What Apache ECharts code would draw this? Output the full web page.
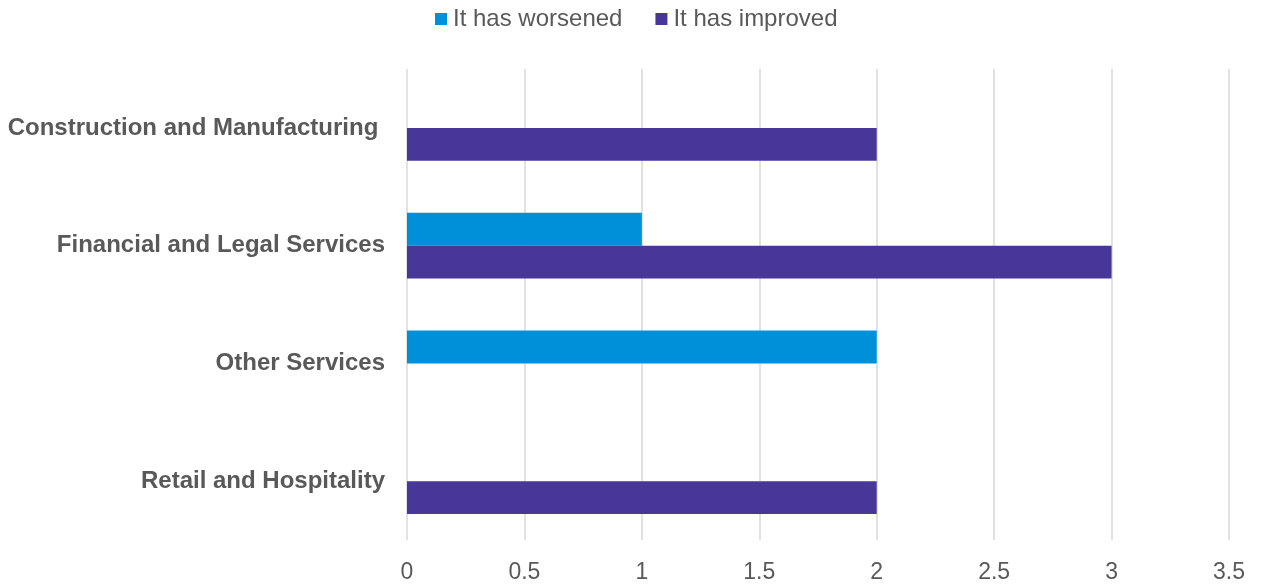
<!DOCTYPE html>
<html><head><meta charset="utf-8">
<script src="https://cdn.jsdelivr.net/npm/echarts@6/dist/echarts.min.js"></script>
<style>html,body{margin:0;padding:0;background:#fff}#c{width:1263px;height:586px}</style>
</head><body><div id="c"></div>
<script>
const categories = ["Construction and Manufacturing ", "Financial and Legal Services", "Other Services", "Retail and Hospitality"];
const worsened = [0, 1, 2, 0];
const improved = [2, 3, 0, 2];
const seriesNames = ["It has worsened", "It has improved"];

const chart = echarts.init(document.getElementById('c'));
chart.setOption({
  animation: false,
  legend: {
    top: 2, left: 430, itemWidth: 12, itemHeight: 12, itemGap: 33,
    icon: 'rect',
    textStyle: { fontFamily: 'Liberation Sans', fontSize: 24, color: '#595959', padding: [0,0,0,1] },
    data: seriesNames
  },
  grid: { left: 407, right: 34, top: 69, bottom: 46 },
  xAxis: {
    type: 'value', min: 0, max: 3.5, interval: 0.5,
    axisLine: { show: false }, axisTick: { show: false },
    splitLine: { lineStyle: { color: '#d9d9d9', width: 1.5 } },
    axisLabel: { fontFamily: 'Liberation Sans', fontSize: 23, color: '#595959', margin: 21 }
  },
  yAxis: {
    type: 'category', inverse: true, data: categories,
    axisLine: { show: false }, axisTick: { show: false },
    axisLabel: { fontFamily: 'Liberation Sans', fontSize: 24, fontWeight: 'bold', color: '#595959', margin: 22 }
  },
  series: [
    { name: seriesNames[0], type: 'bar', data: worsened, itemStyle: { color: '#0090DA' }, barGap: '0%', barCategoryGap: '44%' },
    { name: seriesNames[1], type: 'bar', data: improved, itemStyle: { color: '#483698' }, barGap: '0%', barCategoryGap: '44%' }
  ]
});
</script></body></html>
